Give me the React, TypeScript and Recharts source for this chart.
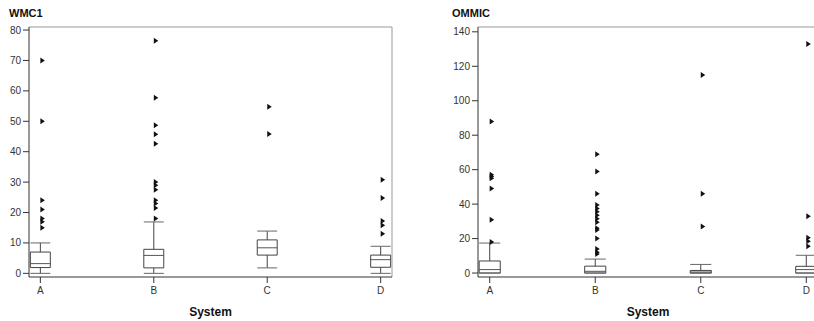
import {
  ComposedChart,
  XAxis,
  YAxis,
  Scatter,
  ReferenceArea,
  ReferenceLine,
} from "recharts";

const categories = ["A", "B", "C", "D"];

// WMC1 box stats per system
const wmcLow = [0, 0, 1.8, 0];
const wmcQ1 = [1.9, 1.8, 6.0, 2.0];
const wmcMedian = [3.2, 5.9, 8.4, 4.5];
const wmcQ3 = [7.0, 7.9, 11.0, 6.0];
const wmcHigh = [10, 16.9, 13.9, 8.9];
const wmcOutliers = [
  [70, 50, 24, 21, 18, 17, 15],
  [76.5, 57.7, 48.7, 45.7, 42.6, 30, 29, 27.5, 24, 23, 21.5, 18],
  [54.8, 45.8],
  [30.8, 24.8, 17.2, 15.8, 13],
];
const wmcTicks = [0, 10, 20, 30, 40, 50, 60, 70, 80];

// OMMIC box stats per system
const omLow = [0, 0, 0, 0];
const omQ1 = [0, 0, 0, 0];
const omMedian = [2, 1, 0.6, 2];
const omQ3 = [7, 4, 1.5, 3.9];
const omHigh = [17.4, 8.1, 5, 10.3];
const omOutliers = [
  [88, 57, 56, 55, 49, 31, 18],
  [69, 59, 46, 39.5, 37.5, 35.5, 33.5, 31.5, 29.5, 26, 25, 20, 14, 12, 11],
  [115, 46, 27],
  [133, 33, 20.5, 18.5, 15.5],
];
const omTicks = [0, 20, 40, 60, 80, 100, 120, 140];

const FONT = "'Liberation Sans', Arial, sans-serif";
const AXIS = "#333";

const Triangle = (props: any) => {
  const { cx, cy } = props;
  if (cx == null || cy == null) return null;
  return (
    <polygon
      points={`${cx},${cy - 3} ${cx + 4.5},${cy} ${cx},${cy + 3}`}
      fill="#111"
    />
  );
};

interface PanelProps {
  left: number;
  width: number;
  marginRight: number;
  yWidth: number;
  xDomain: [number, number];
  yDomain: [number, number];
  yTicks: number[];
  half: number;
  low: number[];
  q1: number[];
  median: number[];
  q3: number[];
  high: number[];
  outliers: number[][];
}

function BoxPanel(p: PanelProps) {
  const points = p.outliers.flatMap((vals, i) =>
    vals.map((v) => ({ x: i + 1, y: v }))
  );

  return (
    <div style={{ position: "absolute", left: p.left, top: 0 }}>
      <ComposedChart
        width={p.width}
        height={321}
        margin={{ top: 27, right: p.marginRight, bottom: 0, left: 0 }}
      >
        <XAxis
          type="number"
          dataKey="x"
          domain={p.xDomain}
          ticks={[1, 2, 3, 4]}
          tickFormatter={(v) => categories[v - 1]}
          allowDataOverflow
          height={44}
          tickSize={6}
          tickMargin={4}
          stroke={AXIS}
          tick={{ fill: AXIS, fontSize: 10, fontFamily: FONT }}
          label={{
            value: "System",
            position: "insideBottom",
            offset: 5,
            fill: "#111",
            fontSize: 12,
            fontWeight: "bold",
            fontFamily: FONT,
          }}
        />
        <YAxis
          type="number"
          dataKey="y"
          domain={p.yDomain}
          ticks={p.yTicks}
          allowDataOverflow
          width={p.yWidth}
          tickSize={6}
          tickMargin={2}
          stroke={AXIS}
          tick={{ fill: AXIS, fontSize: 10, fontFamily: FONT }}
        />
        <ReferenceLine y={p.yDomain[1]} stroke="#999" ifOverflow="visible" />
        <ReferenceLine x={p.xDomain[1]} stroke="#999" ifOverflow="visible" />
        {categories.map((c, i) => (
          <ReferenceArea
            key={"box" + c}
            x1={i + 1 - p.half}
            x2={i + 1 + p.half}
            y1={p.q1[i]}
            y2={p.q3[i]}
            fill="#fff"
            fillOpacity={1}
            stroke="#444"
            strokeWidth={1}
            ifOverflow="visible"
          />
        ))}
        {categories.map((c, i) => [
          <ReferenceLine
            key={"wu" + c}
            segment={[
              { x: i + 1, y: p.q3[i] },
              { x: i + 1, y: p.high[i] },
            ]}
            stroke="#444"
            ifOverflow="visible"
          />,
          <ReferenceLine
            key={"wl" + c}
            segment={[
              { x: i + 1, y: p.low[i] },
              { x: i + 1, y: p.q1[i] },
            ]}
            stroke="#444"
            ifOverflow="visible"
          />,
          <ReferenceLine
            key={"cu" + c}
            segment={[
              { x: i + 1 - p.half, y: p.high[i] },
              { x: i + 1 + p.half, y: p.high[i] },
            ]}
            stroke="#666"
            ifOverflow="visible"
          />,
          <ReferenceLine
            key={"cl" + c}
            segment={[
              { x: i + 1 - p.half, y: p.low[i] },
              { x: i + 1 + p.half, y: p.low[i] },
            ]}
            stroke="#666"
            ifOverflow="visible"
          />,
          <ReferenceLine
            key={"md" + c}
            segment={[
              { x: i + 1 - p.half, y: p.median[i] },
              { x: i + 1 + p.half, y: p.median[i] },
            ]}
            stroke="#555"
            ifOverflow="visible"
          />,
        ])}
        <Scatter
          data={points}
          dataKey="y"
          shape={Triangle}
          isAnimationActive={false}
        />
      </ComposedChart>
    </div>
  );
}

const titleStyle = {
  position: "absolute" as const,
  top: 7,
  fontFamily: FONT,
  fontWeight: "bold" as const,
  fontSize: 11,
  lineHeight: "13px",
  color: "#111",
};

export default function App() {
  return (
    <div
      style={{
        position: "absolute",
        left: 0,
        top: 0,
        width: 814,
        height: 321,
        overflow: "hidden",
        background: "#fff",
      }}
    >
      <div style={{ ...titleStyle, left: 9 }}>WMC1</div>
      <div style={{ ...titleStyle, left: 452 }}>OMMIC</div>
      <BoxPanel
        left={0}
        width={400}
        marginRight={8}
        yWidth={29}
        xDomain={[0.9, 4.1]}
        yDomain={[-1.2, 81]}
        yTicks={wmcTicks}
        half={0.088}
        low={wmcLow}
        q1={wmcQ1}
        median={wmcMedian}
        q3={wmcQ3}
        high={wmcHigh}
        outliers={wmcOutliers}
      />
      <BoxPanel
        left={450}
        width={368}
        marginRight={0}
        yWidth={28}
        xDomain={[0.889, 4.111]}
        yDomain={[-2.3, 142.8]}
        yTicks={omTicks}
        half={0.1}
        low={omLow}
        q1={omQ1}
        median={omMedian}
        q3={omQ3}
        high={omHigh}
        outliers={omOutliers}
      />
    </div>
  );
}
